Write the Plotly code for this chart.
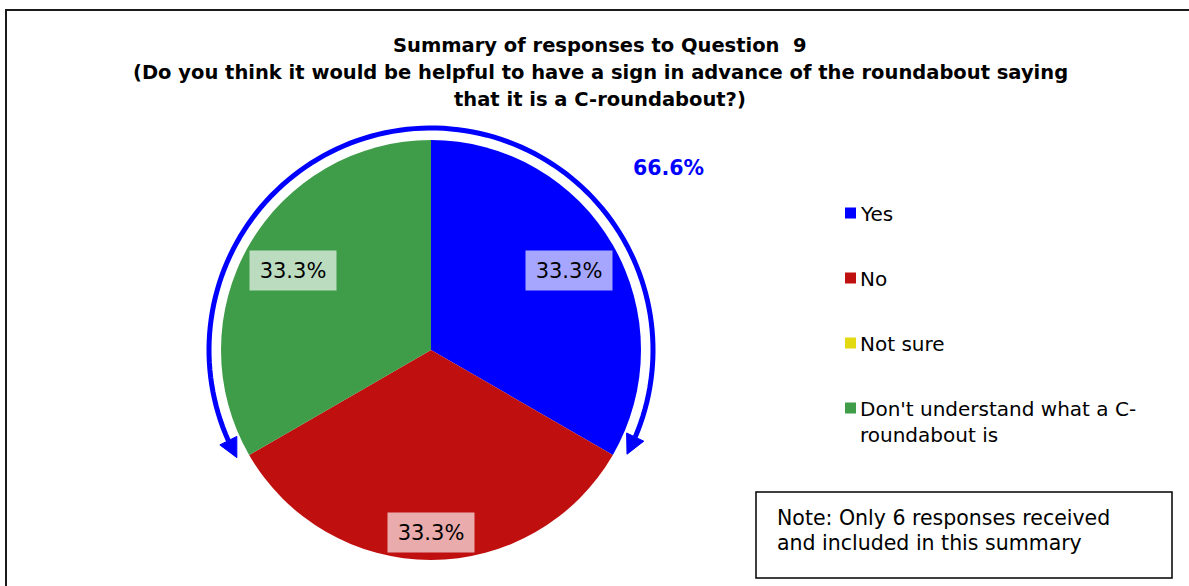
import math
import plotly.graph_objects as go

# ---------------- data ----------------
categories = ["Yes", "No", "Not sure", "Don't understand what a C-roundabout is"]
legend_labels = ["Yes", "No", "Not sure", "Don't understand what a C-<br>roundabout is"]
responses = [2, 2, 0, 2]
colors = ["#0000FF", "#C00F0F", "#E2D910", "#3F9C48"]
title_lines = [
    "Summary of responses to Question  9",
    "(Do you think it would be helpful to have a sign in advance of the roundabout saying",
    "that it is a C-roundabout?)",
]
note_lines = ["Note: Only 6 responses received", "and included in this summary"]
bracket_categories = ["Yes", "Don't understand what a C-roundabout is"]

# ---------------- layout constants (pixels) ----------------
W, H = 1189, 586
FONT = "DejaVu Sans"
cx, cy, R = 431, 350, 210           # pie centre / radius
label_r = [0.76, 0.87, 0.76, 0.76]  # label distance as fraction of radius
arc_R = 222
arc_tip_right, arc_tip_left = -28.0, 209.0   # math degrees
head_len, head_half = 19, 9.5

total = sum(responses)
pcts = [round(100 * v / total, 1) for v in responses]

fig = go.Figure()
fig.add_trace(go.Pie(
    labels=categories, values=responses, sort=False, direction="clockwise",
    rotation=0, marker=dict(colors=colors, line=dict(width=0)),
    textinfo="none", hoverinfo="label+percent", showlegend=False,
    domain=dict(x=[(cx - R) / W, (cx + R) / W],
                y=[(H - cy - R) / H, (H - cy + R) / H]),
))

# invisible pixel axis for decorations
fig.add_trace(go.Scatter(x=[0, W], y=[0, H], mode="markers",
                         marker=dict(opacity=0), hoverinfo="skip", showlegend=False))

annotations = []
shapes = []

# slice labels
cum = 0
for i, v in enumerate(responses):
    if v > 0:
        a = math.radians(360 * (cum + v / 2) / total)
        r = R * label_r[i]
        annotations.append(dict(
            x=cx + r * math.sin(a), y=cy - r * math.cos(a), xref="x", yref="y",
            text=f"{pcts[i]:.1f}%", showarrow=False, width=84, height=37,
            bgcolor="rgba(255,255,255,0.65)", font=dict(family=FONT, size=21, color="black"),
        ))
    cum += v

# title
for k, line in enumerate(title_lines):
    annotations.append(dict(x=600, y=45 + 27 * k, xref="x", yref="y", text=f"<b>{line}</b>",
                            showarrow=False, font=dict(family=FONT, size=19.5, color="black")))

# bracket arc with arrows
def pt(deg, r=arc_R):
    t = math.radians(deg)
    return cx + r * math.cos(t), cy - r * math.sin(t)

dtheta = math.degrees(head_len / arc_R)
start = arc_tip_left - dtheta
end = arc_tip_right + dtheta
n = 120
pts = [pt(start + (end - start) * j / n) for j in range(n + 1)]
path = "M " + " L ".join(f"{x:.2f},{y:.2f}" for x, y in pts)
shapes.append(dict(type="path", path=path, xref="x", yref="y",
                   line=dict(color="#0000FF", width=5)))
for tip_deg, base_deg in [(arc_tip_right, end), (arc_tip_left, start)]:
    tx, ty = pt(tip_deg)
    bx, by = pt(base_deg)
    dx, dy = tx - bx, ty - by
    L = math.hypot(dx, dy)
    px, py = -dy / L * head_half, dx / L * head_half
    tri = f"M {tx:.2f},{ty:.2f} L {bx + px:.2f},{by + py:.2f} L {bx - px:.2f},{by - py:.2f} Z"
    shapes.append(dict(type="path", path=tri, xref="x", yref="y",
                       fillcolor="#0000FF", line=dict(color="#0000FF", width=1)))

bracket_total = sum(pcts[categories.index(c)] for c in bracket_categories)
annotations.append(dict(x=668, y=168, xref="x", yref="y", text=f"<b>{bracket_total:.1f}%</b>",
                        showarrow=False, font=dict(family=FONT, size=20.5, color="#0000FF")))

# legend (manual)
for i, lab in enumerate(legend_labels):
    y0 = 213 + 65 * i
    shapes.append(dict(type="rect", x0=845, x1=856, y0=y0 - 5.5, y1=y0 + 5.5, xref="x", yref="y",
                       fillcolor=colors[i], line=dict(width=0)))
    annotations.append(dict(x=858, y=y0 - 13, xref="x", yref="y", text=lab, showarrow=False,
                            xanchor="left", yanchor="top", align="left",
                            font=dict(family=FONT, size=20, color="black")))

# note box
shapes.append(dict(type="rect", x0=756, x1=1172, y0=492, y1=578, xref="x", yref="y",
                   line=dict(color="black", width=1.5)))
for k, line in enumerate(note_lines):
    annotations.append(dict(x=775, y=518 + 25 * k, xref="x", yref="y", text=line, showarrow=False,
                            xanchor="left", font=dict(family=FONT, size=20.5, color="black")))

# outer frame
shapes.append(dict(type="rect", x0=6, x1=W + 20, y0=10, y1=H + 20, xref="x", yref="y",
                   line=dict(color="#1a1a1a", width=2)))

fig.update_layout(
    width=W, height=H, margin=dict(l=0, r=0, t=0, b=0),
    paper_bgcolor="white", plot_bgcolor="white",
    xaxis=dict(range=[0, W], domain=[0, 1], visible=False, fixedrange=True),
    yaxis=dict(range=[H, 0], domain=[0, 1], visible=False, fixedrange=True),
    annotations=annotations, shapes=shapes, showlegend=False,
)
fig.write_html("out.html", config={"displayModeBar": False},
               post_script="document.body.style.margin='0px';document.body.style.overflow='hidden';")
